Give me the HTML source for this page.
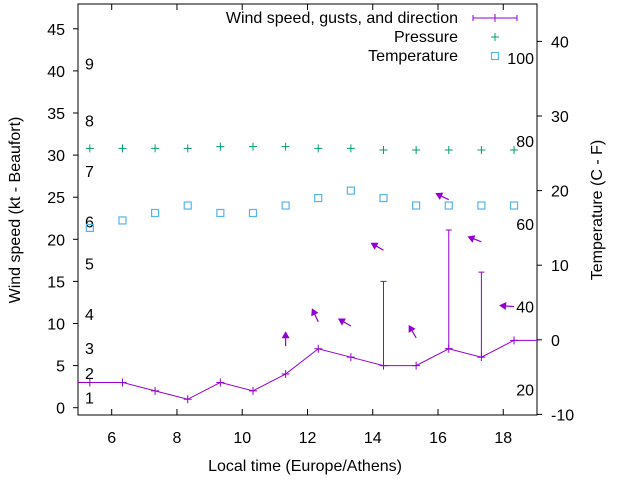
<!DOCTYPE html>
<html><head><meta charset="utf-8"><style>
body{margin:0;background:#fff}
svg{display:block;font-family:"Liberation Sans",sans-serif}
</style></head><body>
<svg id="c" width="640" height="480" xmlns="http://www.w3.org/2000/svg"></svg>
<script>
const times=[4.33,5.33,6.33,7.33,8.33,9.33,10.33,11.33,12.33,13.33,14.33,15.33,16.33,17.33,18.33,19.33];
const wind=[3,3,3,2,1,3,2,4,7,6,5,5,7,6,8,8];
const gustTimes=[14.33,16.33,17.33];
const gustBase=[5,7,6];
const gustTop=[15,21.1,16.1];
const pTimes=[5.33,6.33,7.33,8.33,9.33,10.33,11.33,12.33,13.33,14.33,15.33,16.33,17.33,18.33];
const pressure=[30.8,30.8,30.8,30.8,31.0,31.0,31.0,30.8,30.8,30.6,30.6,30.6,30.6,30.6];
const temperature=[15,16,17,18,17,17,18,19,20,19,18,18,18,18];
const arrowTimes=[11.33,12.33,13.33,14.33,15.33,16.33,17.33,18.33];
const arrowY=[7.3,10.2,9.7,18.7,8.3,24.7,19.7,12.0];
const arrowDir=[0,-25,-60,-60,-30,-64,-69,-85];
const xTicks=[6,8,10,12,14,16,18];
const yTicks=[0,5,10,15,20,25,30,35,40,45];
const y2Ticks=[-10,0,10,20,30,40];
const beaufort=[1,2,3,4,5,6,7,8,9];
const beaufortY=[1.2,4.1,7.1,11.1,17.1,22.1,28.1,34.1,40.9];
const fahr=[20,40,60,80,100];

const L=78,R=537,T=4,B=415;
const X=v=>111.7+(v-6)*32.63;
const Y=v=>407.7-v*8.42;
const Y2=v=>339.8-v*7.46;
const s=document.getElementById('c');
const NS='http://www.w3.org/2000/svg';
function el(tag,attrs,parent){const e=document.createElementNS(NS,tag);for(const k in attrs)e.setAttribute(k,attrs[k]);(parent||s).appendChild(e);return e;}
function txt(str,x,y,anchor,size,parent,rot){const t=el('text',{x:x,y:y,'text-anchor':anchor,'font-size':size||16,fill:'#000'},parent);if(rot)t.setAttribute('transform',rot);t.textContent=str;return t;}

const defs=el('defs',{});const cp=el('clipPath',{id:'clip'},defs);el('rect',{x:L,y:T,width:R-L,height:B-T},cp);

// axes
const frame=el('rect',{x:L,y:T,width:R-L,height:B-T,fill:'none',stroke:'#000','stroke-width':1});


const gx=el('g',{});


xTicks.forEach(v=>{el('line',{x1:X(v),x2:X(v),y1:B,y2:B-6,stroke:'#000'},gx);el('line',{x1:X(v),x2:X(v),y1:T,y2:T+6,stroke:'#000'},gx);
 const t=txt(String(v),X(v),443,'middle',16,gx);});
const gy=el('g',{});


yTicks.forEach(v=>{el('line',{x1:L-5,x2:L,y1:Y(v),y2:Y(v),stroke:'#000'},gy);
 const t=txt(String(v),65,Y(v)+6,'end',16,gy);});
const gy2=el('g',{});


y2Ticks.forEach(v=>{el('line',{x1:R,x2:R+5,y1:Y2(v),y2:Y2(v),stroke:'#000'},gy2);
 const t=txt(String(v),551,Y2(v)+6,'start',16,gy2);});
beaufort.forEach((b,i)=>{const t=txt(String(b),85,Y(beaufortY[i])+6,'start',16);});
fahr.forEach(f=>{const t=txt(String(f),534,Y2((f-32)/1.8)+6,'end',16);});

const xt=txt('Local time (Europe/Athens)',305,471,'middle',16);


const yt=txt('Wind speed (kt - Beaufort)',20,210,'middle',16,null,'rotate(-90 20 210)');


const y2t=txt('Temperature (C - F)',602,210,'middle',16,null,'rotate(-90 602 210)');



const P='#9400d3',G='#009e73',BL='#56b4e9';
const g=el('g',{'clip-path':'url(#clip)'});
// pressure
pTimes.forEach((t,i)=>{const x=X(t),y=Y(pressure[i]);const m=el('path',{d:`M${x-4} ${y}h8M${x} ${y-4}v8`,stroke:G,'stroke-width':1},g);
 });
// temperature
pTimes.forEach((t,i)=>{const m=el('rect',{x:X(t)-3.5,y:Y2(temperature[i])-3.5,width:7,height:7,fill:'none',stroke:BL,'stroke-width':1.2},g);
 });
// wind line
const wl=el('polyline',{points:times.map((t,i)=>X(t)+','+Y(wind[i])).join(' '),fill:'none',stroke:P,'stroke-width':1},g);


times.forEach((t,i)=>{const x=X(t),y=Y(wind[i]);const m=el('path',{d:`M${x-4} ${y}h8M${x} ${y-4}v8`,stroke:P},g);
 });
// gusts
gustTimes.forEach((t,i)=>{const x=X(t);const m=el('path',{d:`M${x} ${Y(gustBase[i])}V${Y(gustTop[i])}M${x-3} ${Y(gustTop[i])}h6M${x-3} ${Y(gustBase[i])}h6`,stroke:P},g);
 });
// arrows
arrowTimes.forEach((t,i)=>{const x=X(t),y=Y(arrowY[i]);const a=el('g',{transform:`translate(${x} ${y}) rotate(${arrowDir[i]})`},g);
 
 el('line',{x1:0,y1:0,x2:0,y2:-10,stroke:P,'stroke-width':1.2},a);
 el('polygon',{points:'0,-15 -4,-8 4,-8',fill:P},a);});

// legend
const lg=el('g',{});


txt('Wind speed, gusts, and direction',458,23,'end',16,lg);
el('path',{d:'M473 18h44M473 15v6M517 15v6M495 14v8',stroke:P},lg);
txt('Pressure',458,42,'end',16,lg);
el('path',{d:'M491 37h8M495 33v8',stroke:G},lg);
txt('Temperature',458,61,'end',16,lg);
el('rect',{x:491.5,y:52.5,width:7,height:7,fill:'none',stroke:BL,'stroke-width':1.2},lg);
</script>
</body></html>
